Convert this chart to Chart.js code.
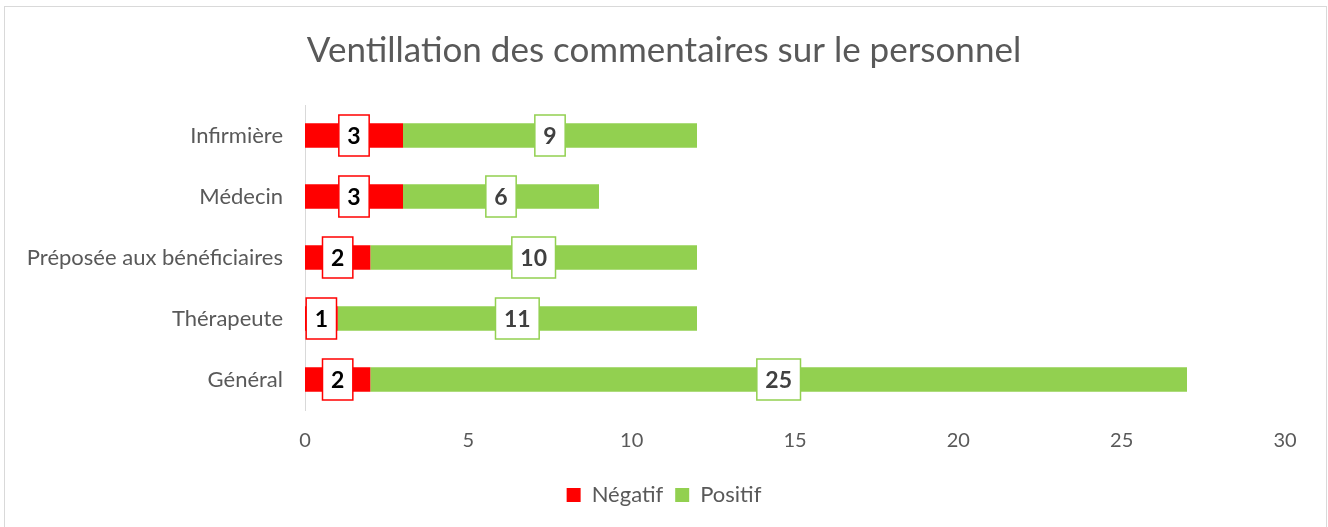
<!DOCTYPE html>
<html lang="fr">
<head>
    <meta charset="UTF-8">
    <title>Ventillation des commentaires</title>
    <style>
        body { margin: 0; background: #fff; }
        canvas { display: block; }
    </style>
</head>
<body>
    <canvas id="myChart" width="1328" height="527"></canvas>
    <script src="https://cdn.jsdelivr.net/npm/chart.js"></script>
    <script>
        var categories = ["Infirmière", "Médecin", "Préposée aux bénéficiaires", "Thérapeute", "Général"];
        var negatif = [3, 3, 2, 1, 2];
        var positif = [9, 6, 10, 11, 25];
        var xTicks = [0, 5, 10, 15, 20, 25, 30];

        var police = "Lato, 'Liberation Sans', sans-serif";
        var gris = "#595959";

        // cadre gris autour du graphique + titre et légende centrés sur toute la largeur
        var cadre = {
            id: "cadre",
            afterLayout: function (chart) {
                [chart.titleBlock, chart.legend].forEach(function (bloc) {
                    if (!bloc) return;
                    bloc.left = 0;
                    bloc.right = chart.width;
                    bloc.width = chart.width;
                });
            },
            beforeDraw: function (chart) {
                var ctx = chart.ctx;
                ctx.save();
                ctx.fillStyle = "#fff";
                ctx.fillRect(0, 0, chart.width, chart.height);
                ctx.strokeStyle = "#d9d9d9";
                ctx.lineWidth = 1;
                ctx.strokeRect(4.5, 6.5, 1322, 540);
                ctx.restore();
            }
        };

        // étiquettes encadrées au centre de chaque segment
        var etiquettes = {
            id: "etiquettes",
            afterDatasetsDraw: function (chart) {
                var ctx = chart.ctx;
                ctx.save();
                ctx.font = "bold 23px " + police;
                ctx.textAlign = "center";
                ctx.textBaseline = "middle";
                chart.data.datasets.forEach(function (ds, d) {
                    var meta = chart.getDatasetMeta(d);
                    meta.data.forEach(function (bar, i) {
                        var texte = String(ds.data[i]);
                        var cx = (bar.x + bar.base) / 2;
                        var cy = bar.y;
                        var w = ctx.measureText(texte).width + 17;
                        var h = 41;
                        ctx.fillStyle = "#fff";
                        ctx.fillRect(cx - w / 2, cy - h / 2, w, h);
                        ctx.strokeStyle = ds.backgroundColor;
                        ctx.lineWidth = 1.5;
                        ctx.strokeRect(cx - w / 2, cy - h / 2, w, h);
                        ctx.fillStyle = ds.labelColor;
                        ctx.fillText(texte, cx, cy + 1);
                    });
                });
                ctx.restore();
            }
        };

        var data = {
            labels: categories,
            datasets: [{
                label: "Négatif",
                data: negatif,
                backgroundColor: "#ff0000",
                labelColor: "#000",
                barPercentage: 0.4,
                categoryPercentage: 1
            }, {
                label: "Positif",
                data: positif,
                backgroundColor: "#92d050",
                labelColor: "#404040",
                barPercentage: 0.4,
                categoryPercentage: 1
            }]
        };

        var config = {
            type: "bar",
            data: data,
            plugins: [cadre, etiquettes],
            options: {
                indexAxis: "y",
                responsive: false,
                animation: false,
                devicePixelRatio: 1,
                layout: {
                    padding: { left: 0, right: 43, top: 0, bottom: 11 }
                },
                scales: {
                    x: {
                        stacked: true,
                        min: 0,
                        max: 30,
                        afterBuildTicks: function (scale) {
                            scale.ticks = xTicks.map(function (v) { return { value: v }; });
                        },
                        grid: { display: false, drawTicks: false },
                        border: { display: false },
                        ticks: {
                            color: gris,
                            font: { family: police, size: 20 },
                            padding: 19
                        }
                    },
                    y: {
                        stacked: true,
                        afterFit: function (scale) { scale.width = 305; },
                        grid: { display: false, drawTicks: false },
                        border: { display: true, color: "#d9d9d9", width: 1 },
                        ticks: {
                            color: gris,
                            font: { family: police, size: 22 },
                            padding: 22
                        }
                    }
                },
                plugins: {
                    title: {
                        display: true,
                        text: "Ventillation des commentaires sur le personnel",
                        color: gris,
                        font: { family: police, size: 35, weight: "normal" },
                        padding: { top: 30, bottom: 33 }
                    },
                    legend: {
                        position: "bottom",
                        labels: {
                            color: gris,
                            boxWidth: 14,
                            boxHeight: 14,
                            padding: 12,
                            font: { family: police, size: 22 }
                        }
                    },
                    tooltip: { enabled: false }
                }
            }
        };

        new Chart(document.getElementById("myChart"), config);
    </script>
</body>
</html>
